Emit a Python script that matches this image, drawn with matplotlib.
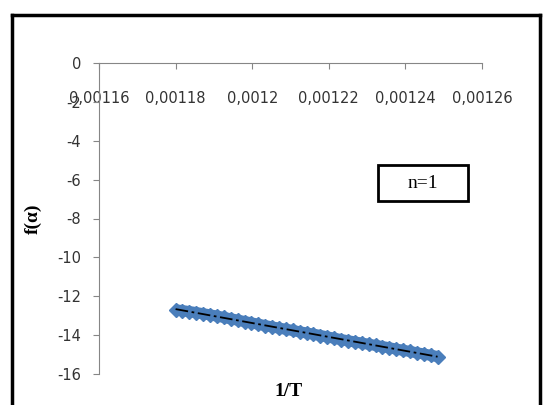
import matplotlib.pyplot as plt
import numpy as np
from matplotlib.lines import Line2D
from matplotlib.patches import Rectangle
from matplotlib.ticker import FuncFormatter

# data (1/T, f(alpha)), n=1
inv_T = [0.0011800, 0.0011818, 0.0011836, 0.0011854, 0.0011872, 0.0011890,
         0.0011908, 0.0011926, 0.0011944, 0.0011962, 0.0011980, 0.0011998,
         0.0012016, 0.0012034, 0.0012052, 0.0012070, 0.0012088, 0.0012106,
         0.0012124, 0.0012142, 0.0012160, 0.0012178, 0.0012196, 0.0012214,
         0.0012232, 0.0012250, 0.0012268, 0.0012286, 0.0012304, 0.0012322,
         0.0012340, 0.0012358, 0.0012376, 0.0012394, 0.0012412, 0.0012430,
         0.0012448, 0.0012466, 0.0012484]
f_alpha = [-12.70, -12.74, -12.79, -12.84, -12.90, -12.96, -13.02, -13.09,
           -13.16, -13.23, -13.30, -13.37, -13.44, -13.51, -13.58, -13.64,
           -13.70, -13.76, -13.83, -13.89, -13.95, -14.02, -14.09, -14.16,
           -14.23, -14.29, -14.35, -14.41, -14.47, -14.53, -14.59, -14.65,
           -14.72, -14.78, -14.84, -14.91, -14.97, -15.04, -15.10]

x_ticks = [0.00116, 0.00118, 0.0012, 0.00122, 0.00124, 0.00126]
y_ticks = [0, -2, -4, -6, -8, -10, -12, -14, -16]

fig = plt.figure(figsize=(5.45, 4.05), dpi=100)
ax = fig.add_axes([99 / 545, 31 / 405, 383 / 545, 311 / 405])

# dense points -> draw as a thick band with diamond markers
ax.plot(inv_T, f_alpha, linestyle='-', lw=8, marker='D', markersize=7,
        color='#4a7ebb', markeredgecolor='#4a7ebb', solid_capstyle='butt')

# linear trendline
k, b = np.polyfit(inv_T, f_alpha, 1)
xs = np.array([inv_T[0], inv_T[-1]])
ax.plot(xs, k * xs + b, color='black', lw=1.3, linestyle=(0, (7, 2, 1.5, 2)))

ax.set_xlim(0.00116, 0.00126)
ax.set_ylim(-16, 0)
ax.set_xticks(x_ticks)
ax.set_yticks(y_ticks)
ax.xaxis.set_major_formatter(FuncFormatter(lambda v, p: f"{v:g}".replace('.', ',')))
ax.yaxis.set_major_formatter(FuncFormatter(lambda v, p: f"{v:g}"))

for s in ['top', 'right']:
    ax.spines[s].set_visible(False)
ax.spines['bottom'].set_position(('data', 0))
ax.spines['bottom'].set_color('#868686')
ax.spines['left'].set_color('#868686')
ax.tick_params(axis='both', color='#868686', length=4, labelsize=10.5,
               labelcolor='#333333')
ax.tick_params(axis='x', pad=16)
ax.tick_params(axis='y', pad=9)

ax.set_ylabel('f(α)', family='Liberation Serif', fontweight='bold', fontsize=14)
ax.yaxis.set_label_coords(-0.15, 0.5)
fig.text(289 / 545, 1 - 391 / 405, '1/T', family='Liberation Serif',
         fontweight='bold', fontsize=14, ha='center', va='center')

# n=1 box
fig.text(423 / 545, 1 - 183 / 405, 'n=1', family='Liberation Serif',
         fontsize=14, ha='center', va='center')
fig.patches.append(Rectangle((378 / 545, 1 - 201 / 405), 90 / 545, 36 / 405,
                             transform=fig.transFigure, fill=False,
                             edgecolor='black', lw=2))

# chart border
for xx, yy in [([12 / 545, 12 / 545], [-0.1, 1 - 15 / 405]),
               ([12 / 545, 540 / 545], [1 - 15 / 405, 1 - 15 / 405]),
               ([540 / 545, 540 / 545], [-0.1, 1 - 15 / 405])]:
    fig.lines.append(Line2D(xx, yy, transform=fig.transFigure, color='black', lw=2.5))

fig.savefig('out.png', dpi=100)
